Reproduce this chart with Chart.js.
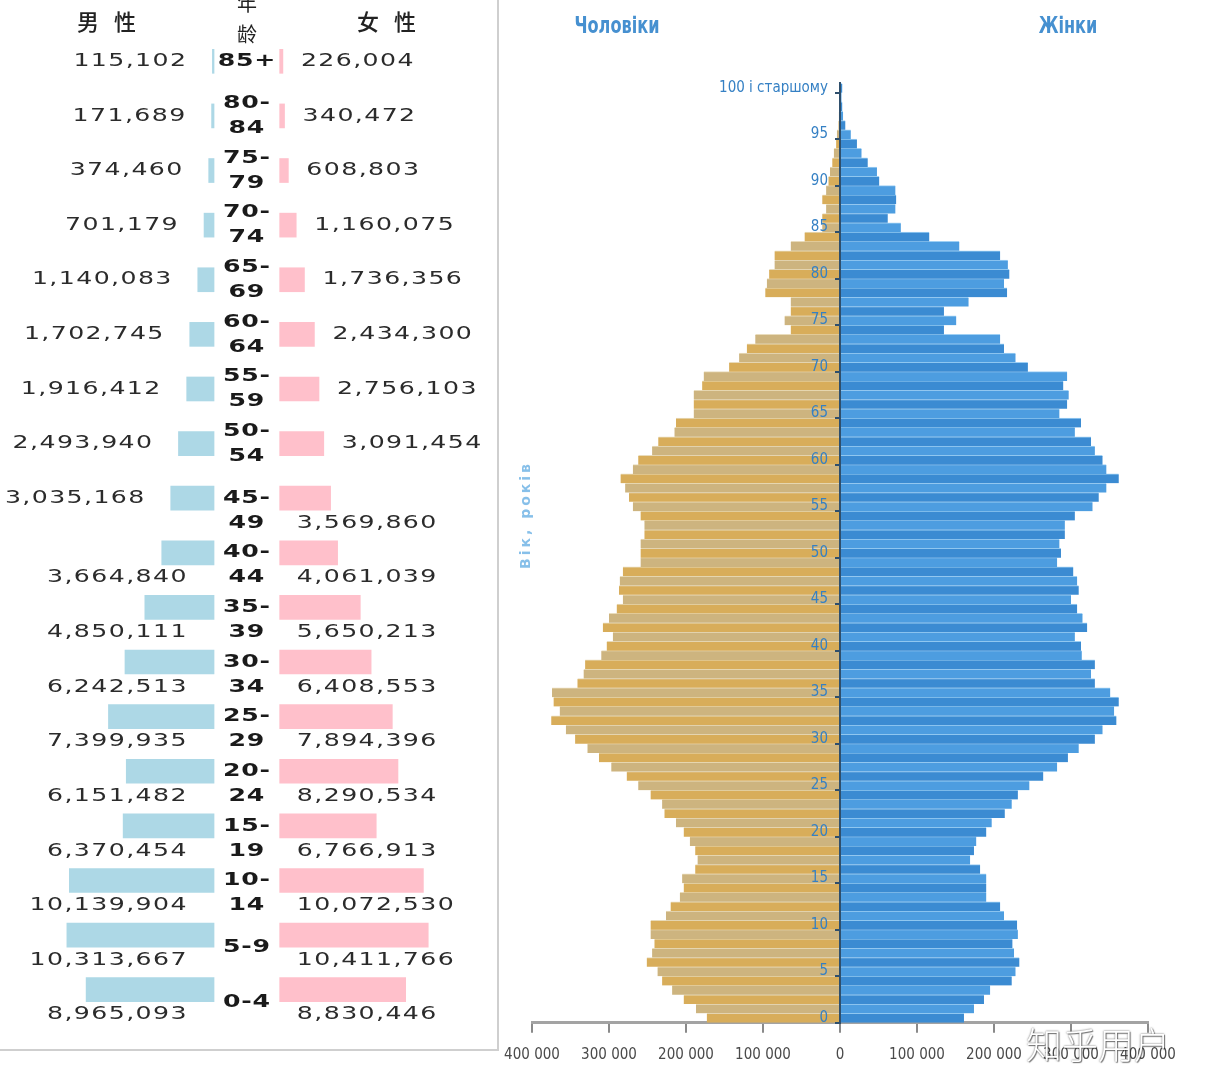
<!DOCTYPE html>
<html>
<head>
<meta charset="utf-8">
<script src="https://cdn.jsdelivr.net/npm/chart.js@4"></script>
<style>
  html, body { margin: 0; padding: 0; background: #fff; }
  #page { position: relative; width: 1205px; height: 1082px; overflow: hidden; background: #fff; }
  #left { position: absolute; left: 0; top: 0; width: 497px; height: 1049px;
          border-right: 2px solid #cfcfcf; border-bottom: 2px solid #cfcfcf; }
  #leftCanvas { position: absolute; left: 0; top: 0; }
  #rightCanvas { position: absolute; left: 500px; top: 0; }
  .cjk { position: absolute; font-family: "Noto Sans CJK SC", sans-serif; color: #222; line-height: 1; }
  .hdr { font-size: 22px; letter-spacing: 15px; font-weight: 500; }
  .age { font-size: 20px; }
  .ua { position: absolute; font-family: "Liberation Sans Narrow", "DejaVu Sans Condensed", sans-serif;
        font-weight: bold; color: #4690d0; font-size: 23px; line-height: 1;
        transform: translate(-50%, -50%) scaleX(0.78); white-space: nowrap; }
  #yTitle { position: absolute; left: 525px; top: 515px; font-family: "DejaVu Sans", sans-serif;
            font-size: 14px; font-weight: bold; letter-spacing: 3px; color: #86bfe9; line-height: 1;
            transform: translate(-50%, -50%) rotate(-90deg); white-space: nowrap; }
  #mark { position: absolute; left: 1098px; top: 1043px; transform: translate(-50%, -50%);
          font-family: "Noto Sans CJK SC", sans-serif; font-weight: 300; font-size: 36px; color: #fff;
          text-shadow: 0 0 2px #555, 1px 1px 1px rgba(0,0,0,0.5); white-space: nowrap; z-index: 5; }
</style>
</head>
<body>
<div id="page">
  <div id="left">
    <canvas id="leftCanvas" width="497" height="1049"></canvas>
    <div class="cjk hdr" style="left:77px; top:9px;">男性</div>
    <div class="cjk hdr" style="left:357px; top:9px;">女性</div>
    <div class="cjk age" style="left:237px; top:-7px;">年</div>
    <div class="cjk age" style="left:237px; top:24px;">龄</div>
  </div>
  <canvas id="rightCanvas" width="705" height="1082"></canvas>
  <div class="ua" style="left:617px; top:25px;">Чоловіки</div>
  <div class="ua" style="left:1068px; top:25px;">Жінки</div>
  <div id="yTitle">Вік, років</div>
  <div id="mark">知乎用户</div>
</div>

<script>
// ---- left panel: 5-year groups ----
const ageGroups = ['85+', '80-84', '75-79', '70-74', '65-69', '60-64', '55-59', '50-54', '45-49',
  '40-44', '35-39', '30-34', '25-29', '20-24', '15-19', '10-14', '5-9', '0-4'];
const maleCounts = [115102, 171689, 374460, 701179, 1140083, 1702745, 1916412, 2493940, 3035168,
  3664840, 4850111, 6242513, 7399935, 6151482, 6370454, 10139904, 10313667, 8965093];
const femaleCounts = [226004, 340472, 608803, 1160075, 1736356, 2434300, 2756103, 3091454, 3569860,
  4061039, 5650213, 6408553, 7894396, 8290534, 6766913, 10072530, 10411766, 8830446];

// ---- right panel: single years of age, thousands ----
const singleAges = Array.from({ length: 101 }, (_, i) => i);
const menThousands = [
  173, 187, 203, 218, 231, 237, 251, 244, 241, 246,
  246, 226, 220, 208, 203, 205, 188, 185, 188, 195,
  203, 213, 228, 231, 246, 262, 277, 297, 313, 328,
  344, 356, 375, 364, 372, 374, 341, 333, 331, 310,
  303, 295, 308, 300, 290, 282, 287, 286, 282, 259,
  259, 259, 254, 254, 259, 269, 274, 279, 285, 269,
  262, 244, 236, 215, 213, 190, 190, 190, 179, 177,
  144, 131, 121, 110, 64, 72, 64, 64, 97, 95,
  92, 85, 85, 64, 46, 23, 23, 18, 23, 18,
  15, 13, 10, 8, 5, 4, 2, 1.5, 1, 0.5,
  1
];
const womenThousands = [
  161, 174, 187, 195, 223, 228, 233, 226, 224, 231,
  230, 213, 208, 190, 190, 190, 182, 169, 174, 177,
  190, 197, 214, 223, 231, 246, 264, 282, 296, 310,
  331, 341, 359, 356, 362, 351, 331, 326, 331, 314,
  313, 305, 321, 315, 308, 300, 310, 308, 303, 282,
  287, 285, 292, 292, 305, 328, 336, 346, 362, 346,
  341, 331, 326, 305, 313, 285, 295, 297, 290, 295,
  244, 228, 213, 208, 135, 151, 135, 167, 217, 213,
  220, 218, 208, 155, 116, 79, 62, 72, 73, 72,
  51, 48, 36, 28, 22, 14, 7, 4, 3, 2,
  3
];

// gap between the two halves of the left pyramid, in persons
const GAP = 2300000;
const SX = 1.4;

function wideText(ctx, text, x, y, align) {
  ctx.save();
  ctx.translate(x, y);
  ctx.scale(SX, 1);
  ctx.textAlign = align;
  ctx.fillText(text, 0, 0);
  ctx.restore();
}
function wideWidth(ctx, text) {
  return ctx.measureText(text).width * SX;
}
function splitAge(g) {
  const p = g.split('-');
  return (p.length === 2 && p[1].length === 2) ? [p[0] + '-', p[1]] : [g];
}

const pyramidLabels = {
  id: 'pyramidLabels',
  afterDatasetsDraw(chart) {
    const ctx = chart.ctx;
    const male = chart.getDatasetMeta(0).data;
    const female = chart.getDatasetMeta(1).data;
    const mid = chart.scales.x.getPixelForValue(0);
    ctx.save();
    ctx.textBaseline = 'middle';
    ageGroups.forEach((group, i) => {
      const m = male[i], f = female[i];
      const cy = m.y;
      const mLeft = Math.min(m.x, m.base);
      const fRight = Math.max(f.x, f.base);
      const mText = maleCounts[i].toLocaleString('en-US');
      const fText = femaleCounts[i].toLocaleString('en-US');

      ctx.font = '18px "DejaVu Sans"';
      ctx.letterSpacing = '1px';
      ctx.fillStyle = '#2b2b2b';
      const mW = wideWidth(ctx, mText);
      const fW = wideWidth(ctx, fText);
      const mBeside = mLeft - 25 - mW >= 0;
      const fBeside = fRight + 18 + fW <= 487;

      if (mBeside) wideText(ctx, mText, mLeft - 25, cy, 'right');
      else wideText(ctx, mText, mid - 59, cy + 25, 'right');
      if (fBeside) wideText(ctx, fText, fRight + 18, cy, 'left');
      else wideText(ctx, fText, mid + 50, cy + 25, 'left');

      ctx.font = 'bold 18px "DejaVu Sans"';
      ctx.letterSpacing = '0.5px';
      ctx.fillStyle = '#1a1a1a';
      const lines = splitAge(group);
      const below = !mBeside || !fBeside;
      let ys;
      if (lines.length === 2) ys = below ? [cy, cy + 25] : [cy - 12.5, cy + 12.5];
      else ys = below ? [cy + 12.5] : [cy];
      lines.forEach((t, k) => wideText(ctx, t, mid, ys[k], 'center'));
    });
    ctx.restore();
  }
};

new Chart(document.getElementById('leftCanvas'), {
  type: 'bar',
  data: {
    labels: ageGroups,
    datasets: [
      { label: '男性', data: maleCounts.map(v => [-(GAP + v), -GAP]), backgroundColor: '#add8e6' },
      { label: '女性', data: femaleCounts.map(v => [GAP, GAP + v]), backgroundColor: '#ffc0cb' }
    ]
  },
  options: {
    indexAxis: 'y',
    responsive: false,
    animation: false,
    layout: { padding: { left: 0, right: 0, top: 34, bottom: 32 } },
    datasets: { bar: { grouped: false, barThickness: 24 } },
    plugins: { legend: { display: false }, tooltip: { enabled: false } },
    scales: {
      x: { display: false, min: -17300000, max: 17530000 },
      y: { display: false }
    }
  },
  plugins: [pyramidLabels]
});

// ---- right chart ----
const narrow = '"Liberation Sans Narrow", "DejaVu Sans Condensed", sans-serif';
const fmt = v => String(Math.abs(v)).replace(/\B(?=(\d{3})+(?!\d))/g, ' ');

new Chart(document.getElementById('rightCanvas'), {
  type: 'bar',
  data: {
    labels: singleAges.map(String),
    datasets: [
      {
        label: 'Чоловіки',
        data: menThousands.map(v => -v * 1000),
        backgroundColor: c => c.dataIndex % 2 ? '#cdb47f' : '#d8ad5a',
        borderColor: '#e9dcbc',
        borderWidth: { top: 1, right: 0, bottom: 0, left: 0 }
      },
      {
        label: 'Жінки',
        data: womenThousands.map(v => v * 1000),
        backgroundColor: c => c.dataIndex % 2 ? '#4d9de0' : '#3b8bd2',
        borderColor: '#9fd0f4',
        borderWidth: { top: 1, right: 0, bottom: 0, left: 0 }
      }
    ]
  },
  options: {
    indexAxis: 'y',
    responsive: false,
    animation: false,
    layout: { padding: { left: 32, right: 57, top: 83.35, bottom: 0 } },
    datasets: { bar: { grouped: false, barPercentage: 1, categoryPercentage: 1 } },
    plugins: { legend: { display: false }, tooltip: { enabled: false } },
    scales: {
      x: {
        min: -400000,
        max: 400000,
        ticks: {
          stepSize: 100000,
          callback: v => fmt(v),
          color: '#4a4a4a',
          font: { family: narrow, size: 15 },
          padding: 13,
          maxRotation: 0
        },
        grid: { drawOnChartArea: false, drawTicks: true, tickLength: 10, color: '#8a8a8a', lineWidth: 2 },
        border: { color: '#a3a3a3', width: 3 },
        afterFit: s => { s.height = 59.35; s.paddingLeft = 0; s.paddingRight = 0; }
      },
      y: {
        position: 'center',
        reverse: true,
        ticks: {
          z: 1,
          autoSkip: false,
          callback: (v, i) => singleAges[i] === 100 ? '100 і старшому' : (singleAges[i] % 5 === 0 ? String(singleAges[i]) : ''),
          color: '#3580c4',
          font: { family: narrow, size: 15 },
          padding: 8
        },
        grid: {
          z: 1,
          drawOnChartArea: false,
          tickLength: 4,
          lineWidth: 2,
          color: c => singleAges[c.index] % 5 === 0 ? '#2f4f6c' : 'rgba(0,0,0,0)'
        },
        border: { z: 1, color: '#2f4f6c', width: 2 }
      }
    }
  }
});
</script>
</body>
</html>
